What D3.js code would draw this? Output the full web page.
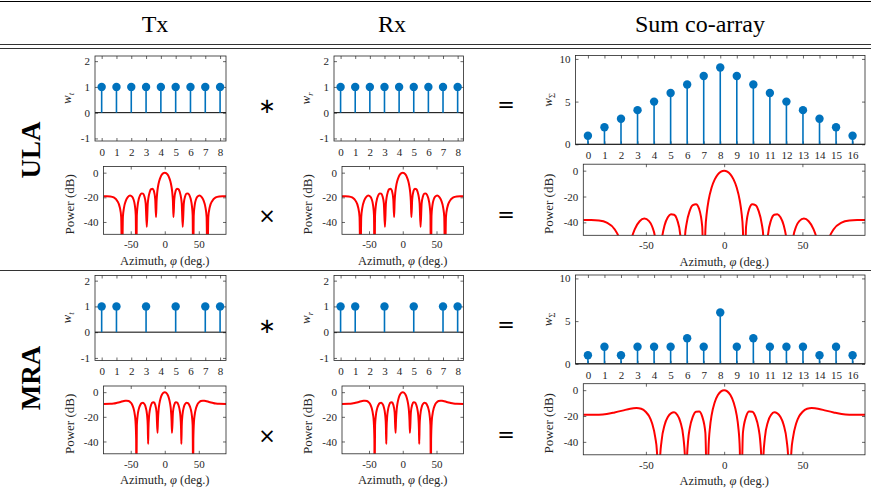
<!DOCTYPE html>
<html>
<head>
<meta charset="utf-8">
<script src="https://cdn.jsdelivr.net/npm/d3@7"></script>
<style>
  body { margin: 0; background: #fff; }
</style>
</head>
<body>
<script>
// Tx / Rx arrays, their sum co-array and beampatterns (ULA vs MRA)

// element positions and weights
let ulaPos = [0, 1, 2, 3, 4, 5, 6, 7, 8];
let ulaW = [1, 1, 1, 1, 1, 1, 1, 1, 1];
let mraPos = [0, 1, 3, 5, 7, 8];
let mraW = [1, 1, 1, 1, 1, 1];

let sumPos = [0, 1, 2, 3, 4, 5, 6, 7, 8, 9, 10, 11, 12, 13, 14, 15, 16];
let ulaSumW = [1, 2, 3, 4, 5, 6, 7, 8, 9, 8, 7, 6, 5, 4, 3, 2, 1];
let mraSumW = [1, 2, 1, 2, 2, 2, 3, 2, 6, 2, 3, 2, 2, 2, 1, 2, 1];

// beampatterns (symmetric, 0..90 deg.)
let ulaPhi = [0, 2, 4, 6, 8, 10, 11, 12, 12.8, 14, 16, 18, 20, 22, 24, 25, 26.4, 28, 30, 32, 34, 36, 38, 40, 41, 41.8, 42.6, 44, 46, 48, 51, 54, 57, 60, 61.5, 62.7, 64, 66, 70, 75, 80, 85, 90];
let ulaDb = [0, -0.35, -1.44, -3.39, -6.51, -11.65, -15.8, -23.1, -36, -21.7, -14.8, -12.99, -13.34, -15.53, -20.5, -25.2, -44, -24.9, -19.08, -17.04, -16.82, -18.03, -21.03, -27.4, -34.3, -80, -34.7, -26.3, -21.6, -19.5, -18.54, -19.56, -22.5, -28.8, -35.9, -80, -36.1, -28.3, -22.7, -20.1, -19.28, -19.1, -19.08];
let ulaSumDb = [0, -0.7, -2.88, -6.78, -13.02, -23.3, -31.6, -46.2, -100, -43.4, -29.6, -25.98, -26.68, -31.06, -41, -50.4, -100, -49.8, -38.16, -34.08, -33.64, -36.06, -42.06, -54.8, -68.6, -100, -69.4, -52.6, -43.2, -39, -37.08, -39.12, -45, -57.6, -71.8, -100, -72.2, -56.6, -45.4, -40.2, -38.56, -38.2, -38.16];

let mraPhi = [0, 2, 4, 6, 8, 9, 10, 10.65, 12, 14, 16, 18, 20, 22, 23, 24, 24.4, 25, 26, 28, 30, 32, 34, 36, 38, 40, 41, 41.8, 42, 43, 44, 46, 48, 50, 53, 56, 58, 60, 65, 70, 75, 80, 90];
let mraDb = [0, -0.46, -1.91, -4.66, -9.68, -14.08, -22.9, -33, -16.47, -10.25, -8.26, -8.37, -10.24, -14.79, -19.3, -30.2, -42, -26.8, -18.5, -12.18, -9.54, -8.59, -8.95, -10.41, -13.34, -19.68, -26.9, -80, -38.2, -23.3, -18.32, -12.9, -10.01, -8.44, -7.19, -6.91, -6.98, -7.15, -7.91, -8.62, -9.23, -9.48, -9.54];
let mraSumDb = [0, -0.92, -3.82, -9.32, -19.36, -28.16, -45.8, -100, -32.94, -20.5, -16.52, -16.74, -20.48, -29.58, -38.6, -60.4, -100, -53.6, -37, -24.36, -19.08, -17.18, -17.9, -20.82, -26.68, -39.36, -53.8, -100, -76.4, -46.6, -36.64, -25.8, -20.02, -16.88, -14.38, -13.82, -13.96, -14.3, -15.82, -17.24, -18.46, -18.96, -19.08];

// ticks
let stemTicks8 = [0, 1, 2, 3, 4, 5, 6, 7, 8];
let stemTicks16 = sumPos;
let wTicks = [-1, 0, 1, 2];
let sumTicks = [0, 5, 10];
let azTicks = [-50, 0, 50];
let dbTicks = [-40, -20, 0];

let headers = ["Tx", "Rx", "Sum co-array"];
let rowNames = ["ULA", "MRA"];

let serif = "'Liberation Serif', 'DejaVu Serif', serif";
let axisColor = "#262626";
let blue = "#0072BD";

let svg = d3.select("body")
            .append("svg")
            .attr("width", 871)
            .attr("height", 492)
            .style("font-family", serif);

let clipId = 0;

function mirror(phi, db) {
    let pts = [];
    for (let i = phi.length - 1; i > 0; i--) pts.push({a: -phi[i], v: db[i]});
    for (let i = 0; i < phi.length; i++) pts.push({a: phi[i], v: db[i]});
    return pts;
}

function panel(box, xDom, yDom, xTicks, yTicks, xPad) {
    let g = svg.append("g").attr("transform", `translate(${box.x},${box.y})`);
    let x = d3.scaleLinear().domain(xDom).range([0, box.w]);
    let y = d3.scaleLinear().domain(yDom).range([box.h, 0]);
    let fmt = d => String(d);

    g.append("g").attr("transform", `translate(0,${box.h})`)
     .call(d3.axisBottom(x).tickValues(xTicks).tickSizeInner(-3).tickSizeOuter(0).tickPadding(xPad).tickFormat(fmt));
    g.append("g")
     .call(d3.axisTop(x).tickValues(xTicks).tickSizeInner(-3).tickSizeOuter(0).tickFormat(""));
    g.append("g")
     .call(d3.axisLeft(y).tickValues(yTicks).tickSizeInner(-3).tickSizeOuter(0).tickPadding(5).tickFormat(fmt));
    g.append("g").attr("transform", `translate(${box.w},0)`)
     .call(d3.axisRight(y).tickValues(yTicks).tickSizeInner(-3).tickSizeOuter(0).tickFormat(""));

    g.selectAll(".domain").remove();
    g.selectAll("g").attr("font-family", serif).attr("font-size", 11);
    g.selectAll(".tick line").attr("stroke", axisColor).attr("stroke-width", 0.7);
    g.selectAll(".tick text").attr("fill", axisColor);
    return {g: g, x: x, y: y, box: box};
}

function border(p) {
    p.g.append("rect")
       .attr("width", p.box.w)
       .attr("height", p.box.h)
       .attr("fill", "none")
       .attr("stroke", axisColor)
       .attr("stroke-width", 0.8);
}

function stemPlot(box, pos, w, xDom, yDom, xTicks, yTicks, sub) {
    let p = panel(box, xDom, yDom, xTicks, yTicks, 7);
    let data = pos.map((n, i) => ({n: n, w: w[i]}));

    p.g.append("line")
       .attr("x1", 0).attr("x2", box.w)
       .attr("y1", p.y(0)).attr("y2", p.y(0))
       .attr("stroke", "#000").attr("stroke-width", 1);

    p.g.selectAll("line.stem")
       .data(data)
       .enter()
       .append("line")
       .attr("class", "stem")
       .attr("x1", d => p.x(d.n)).attr("x2", d => p.x(d.n))
       .attr("y1", p.y(0)).attr("y2", d => p.y(d.w))
       .attr("stroke", blue).attr("stroke-width", 1.6);

    p.g.selectAll("circle")
       .data(data)
       .enter()
       .append("circle")
       .attr("cx", d => p.x(d.n))
       .attr("cy", d => p.y(d.w))
       .attr("r", 4.2)
       .attr("fill", blue);

    border(p);

    // y label: w with subscript
    let t = svg.append("text")
               .attr("transform", `translate(${box.x - 24},${box.y + box.h / 2}) rotate(-90)`)
               .attr("text-anchor", "middle")
               .attr("font-size", 13)
               .attr("fill", axisColor);
    t.append("tspan").attr("font-style", "italic").text("w");
    t.append("tspan").attr("font-size", 8.5).attr("dy", 3)
     .attr("font-style", sub === "Σ" ? "normal" : "italic").text(sub);
}

function beamPlot(box, phi, db) {
    let p = panel(box, [-90, 90], [-50, 5], azTicks, dbTicks, 6);
    let id = "clip" + (clipId++);
    p.g.append("clipPath").attr("id", id)
       .append("rect").attr("width", box.w).attr("height", box.h);

    let line = d3.line()
                 .x(d => p.x(d.a))
                 .y(d => p.y(d.v))
                 .curve(d3.curveMonotoneX);

    p.g.append("path")
       .datum(mirror(phi, db))
       .attr("clip-path", `url(#${id})`)
       .attr("d", line)
       .attr("fill", "none")
       .attr("stroke", "#FF0000")
       .attr("stroke-width", 2);

    border(p);

    svg.append("text")
       .attr("transform", `translate(${box.x - 30},${box.y + box.h / 2 + 4}) rotate(-90)`)
       .attr("text-anchor", "middle")
       .attr("font-size", 13)
       .attr("fill", axisColor)
       .text("Power (dB)");

    let xl = svg.append("text")
                .attr("x", box.x + box.w / 2)
                .attr("y", box.y + box.h + 30.5)
                .attr("text-anchor", "middle")
                .attr("font-size", 12.5)
                .attr("fill", axisColor);
    xl.append("tspan").text("Azimuth, ");
    xl.append("tspan").attr("font-style", "italic").text("φ");
    xl.append("tspan").text(" (deg.)");
}

// header and rules
svg.append("line").attr("x1", 0).attr("x2", 871).attr("y1", 1.5).attr("y2", 1.5)
   .attr("stroke", "#000").attr("stroke-width", 1);
[44.5, 48.5].forEach(yy => {
    svg.append("line").attr("x1", 0).attr("x2", 871).attr("y1", yy).attr("y2", yy)
       .attr("stroke", "#333").attr("stroke-width", 1.2);
});
svg.append("line").attr("x1", 0).attr("x2", 871).attr("y1", 270.5).attr("y2", 270.5)
   .attr("stroke", "#333").attr("stroke-width", 1.2);

let headerX = [155, 392, 700];
headers.forEach((h, i) => {
    svg.append("text")
       .attr("x", headerX[i]).attr("y", 32)
       .attr("text-anchor", "middle")
       .attr("font-size", 24)
       .text(h);
});

// rows
let rowData = [
    {pos: ulaPos, w: ulaW, sumW: ulaSumW, db: ulaDb, sumDb: ulaSumDb, phi: ulaPhi, sub: ["t", "r"]},
    {pos: mraPos, w: mraW, sumW: mraSumW, db: mraDb, sumDb: mraSumDb, phi: mraPhi, sub: ["t", "r"]}
];

rowData.forEach((r, k) => {
    let dy = k * 219.5;

    svg.append("text")
       .attr("transform", `translate(40,${(k === 0 ? 150 : 378)}) rotate(-90)`)
       .attr("text-anchor", "middle")
       .attr("font-size", 27)
       .attr("font-weight", "bold")
       .text(rowNames[k]);

    stemPlot({x: 95, y: 56 + dy, w: 131, h: 85}, r.pos, r.w, [-0.45, 8.4], [-1.1, 2.2], stemTicks8, wTicks, r.sub[0]);
    stemPlot({x: 334, y: 56 + dy, w: 129.5, h: 85}, r.pos, r.w, [-0.45, 8.4], [-1.1, 2.2], stemTicks8, wTicks, r.sub[1]);
    stemPlot({x: 575.5, y: 55.5 + dy, w: 289.5, h: 88.8}, sumPos, r.sumW, [-0.75, 16.75], [0, 10.4], stemTicks16, sumTicks, "Σ");

    beamPlot({x: 103.5, y: 166.5 + dy, w: 122.5, h: 67.8}, r.phi, r.db);
    beamPlot({x: 342, y: 166.5 + dy, w: 121.5, h: 67.8}, r.phi, r.db);
    beamPlot({x: 583.3, y: 164.2 + dy, w: 281.7, h: 71.1}, r.phi, r.sumDb);

    // operators
    let ops = [["∗", 267, 113], ["×", 267, 223], ["=", 506, 112], ["=", 506, 222]];
    ops.forEach(o => {
        svg.append("text")
           .attr("x", o[1]).attr("y", o[2] + dy)
           .attr("text-anchor", "middle")
           .attr("font-family", "'DejaVu Sans', sans-serif")
           .attr("font-size", 21)
           .text(o[0]);
    });
});
</script>
</body>
</html>
